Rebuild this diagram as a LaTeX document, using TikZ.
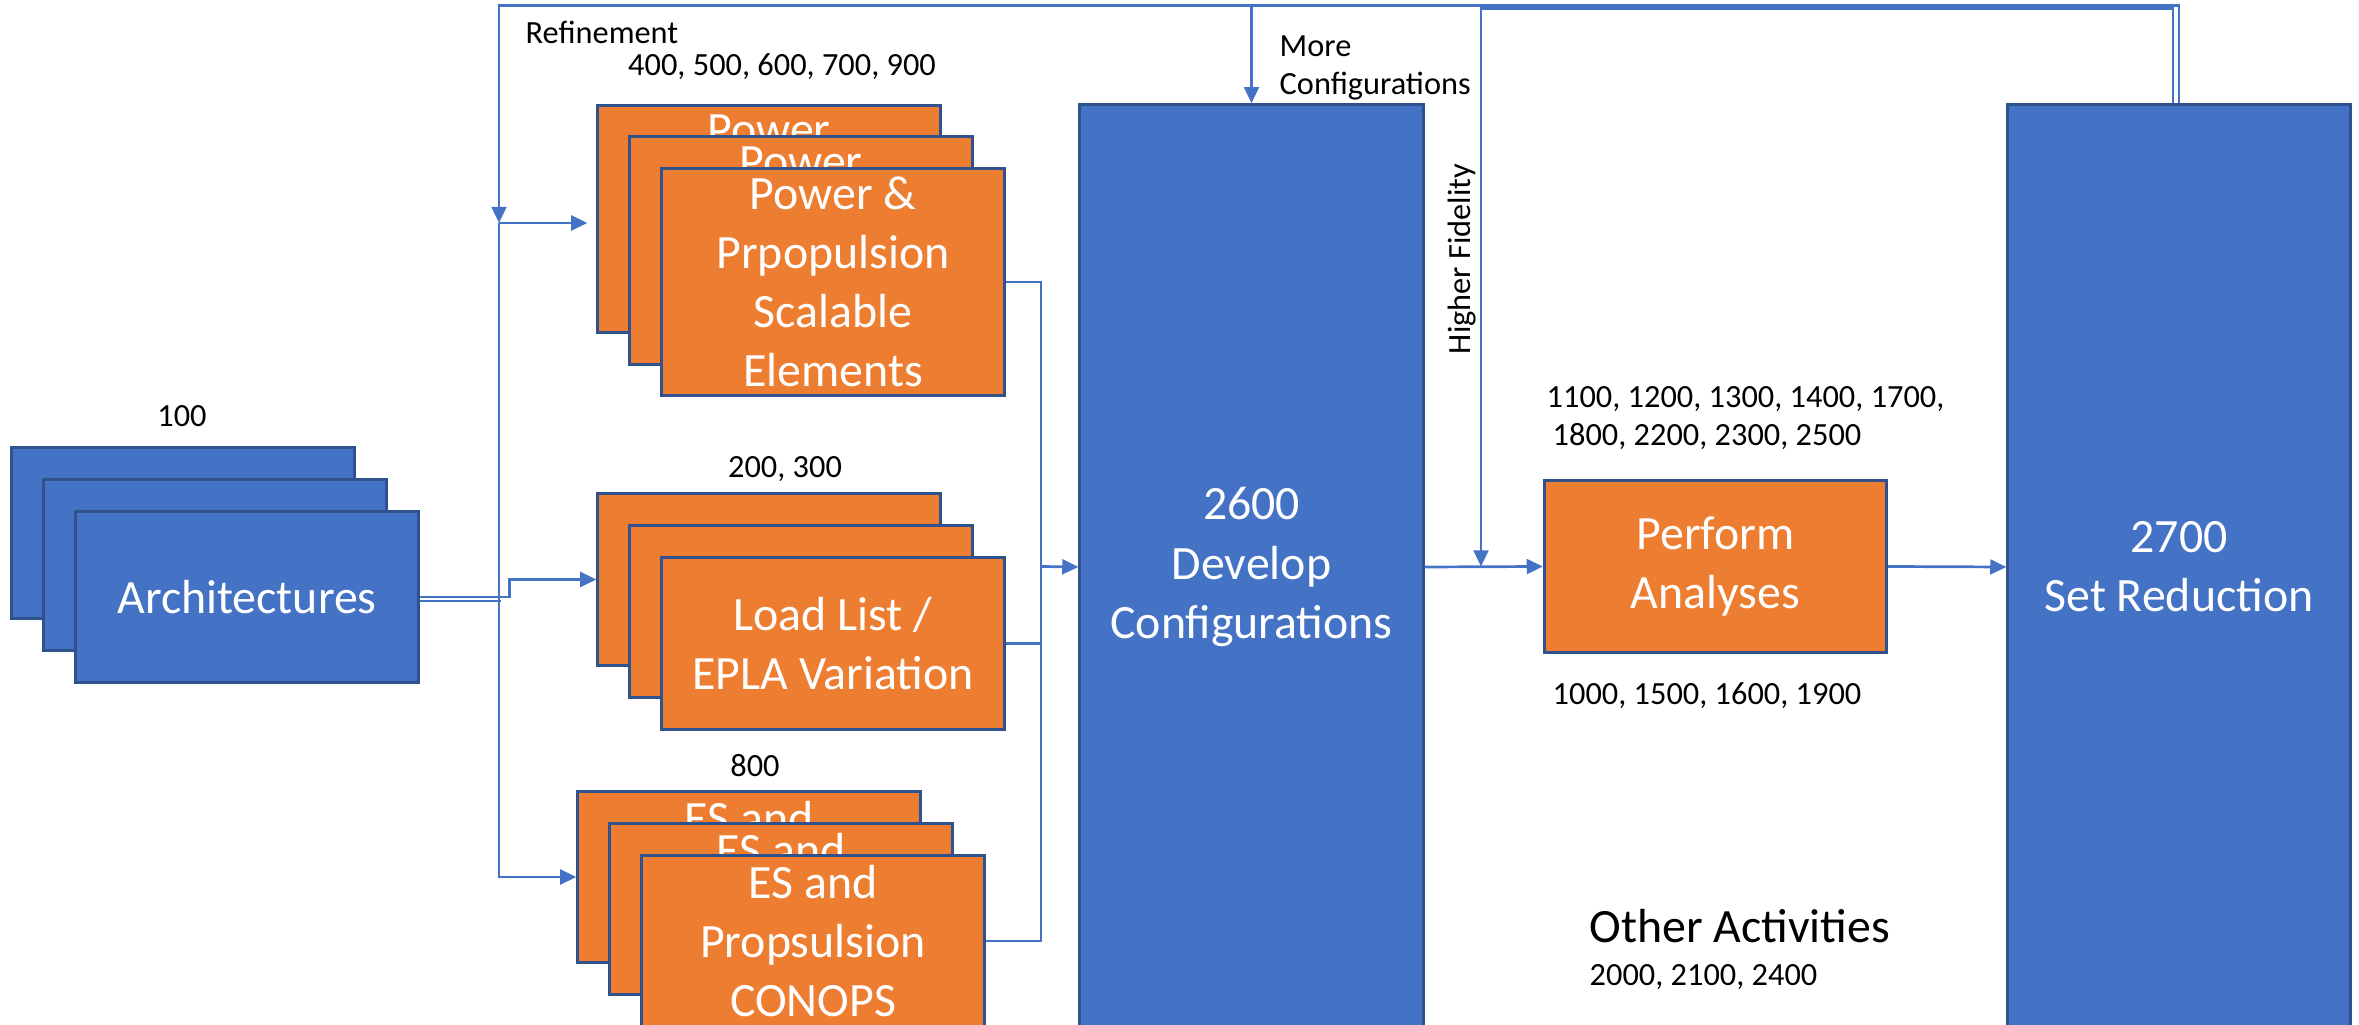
\documentclass[tikz,border=0pt]{standalone}
\usepackage{fontspec}
\setmainfont{Carlito}
\usetikzlibrary{arrows.meta,calc}
\definecolor{boxblue}{HTML}{4472C4}
\definecolor{edgeblue}{HTML}{2F528F}
\definecolor{boxorange}{HTML}{ED7D31}
\tikzset{
  card/.style={draw=edgeblue,line width=0.85pt,text=white,inner sep=0pt,align=center,
    minimum width=3.42cm,minimum height=1.71cm,font=\fontsize{13.6}{16.8}\selectfont},
  bluecard/.style={card,fill=boxblue},
  orangecard/.style={card,fill=boxorange},
  lbl/.style={inner sep=0pt,font=\fontsize{9.2}{11}\selectfont},
  link/.style={draw=boxblue,line width=0.77pt},
  flow/.style={link,-{Triangle[length=4.6pt,width=4.2pt]}}
}

\begin{document}
\begin{tikzpicture}[x=0.01cm,y=-0.01cm]
\useasboundingbox (0,0) rectangle (2359,1025);
\clip (0,0) rectangle (2359,1025);

\foreach \i in {0,1,2}
  \node[bluecard] (ar\i) at (183+32*\i,533+32*\i) {Architectures};
\node[lbl,anchor=base] (n100) at (182,427) {100};

\foreach \i in {0,1}
  \node[orangecard,minimum height=2.27cm] (pw\i) at (769+32*\i,219+31.5*\i) {Power\\Prpopulsion\\Scalable\\Elements};
\node[orangecard,minimum height=2.27cm] (pw2) at (833,282) {Power \&\\Prpopulsion\\Scalable\\Elements};
\node[lbl,anchor=base] (n400) at (782,76) {400, 500, 600, 700, 900};
\node[lbl,anchor=base west] (nref) at (525,44) {Refinement};

\foreach \i in {0,1,2}
  \node[orangecard] (ll\i) at (769+32*\i,579.5+32*\i) {Load List /\\EPLA Variation};
\node[lbl,anchor=base] (n200) at (785,477.7) {200, 300};

\foreach \i in {0,1,2}
  \node[orangecard] (es\i) at (749+32*\i,877+32*\i) {ES and\\Propsulsion\\CONOPS};
\node[lbl,anchor=base] (n800) at (755,776.6) {800};

\node[bluecard,minimum width=3.43cm,minimum height=9.24cm] (dev) at (1251.5,567) {2600\\Develop\\Configurations};
\node[orangecard] (pa) at (1715.5,566.5) {Perform\\Analyses};
\node[bluecard,minimum height=9.24cm] (sr) at (2179,567) {2700\\Set Reduction};

\node[lbl,anchor=base west,align=left] (nmore) at (1279,95) {More\\Configurations};
\node[lbl,rotate=90] (nhf) at (1462,259) {Higher Fidelity};
\node[lbl,anchor=base west,align=left] (n1100) at (1546,446) {1100, 1200, 1300, 1400, 1700,\\\hspace*{0.06cm}1800, 2200, 2300, 2500};
\node[lbl,anchor=base west] (n1000) at (1552,705) {1000, 1500, 1600, 1900};
\node[lbl,anchor=base west,font=\fontsize{13.6}{16.8}\selectfont] (nother) at (1589,943) {Other Activities};
\node[lbl,anchor=base west] (n2000) at (1589,986) {2000, 2100, 2400};

\coordinate (split) at (499,223);
\coordinate (jn) at (1041,566.5);
\coordinate (hf) at (1481,566.5);

\draw[flow] (ar2.east) -- ++(90,0) |- (ll0.west);
\draw[link] ([yshift=-0.04cm]ar2.east) -- ++(81,0);
\draw[flow,shorten >=0.09cm] (split) -- (split -| pw0.west);
\draw[flow] (split) |- (es0.west);

\draw[link] (pw2.east) -| (jn);
\draw[link] (ll2.east) -| (jn);
\draw[link] (es2.east) -| (jn);
\draw[flow] (jn) -- (dev.west);
\draw[flow] (dev.east) -- (pa.west);
\draw[flow] (pa.east) -- (sr.west);

\draw[flow] (sr.north) -- ++(0,-98) -| (split);
\draw[flow] ([xshift=-0.06cm]sr.north) -- ++(0,-95) -| (hf);
\draw[flow] ([yshift=0.98cm]dev.north) -- (dev.north);

\end{tikzpicture}
\end{document}
